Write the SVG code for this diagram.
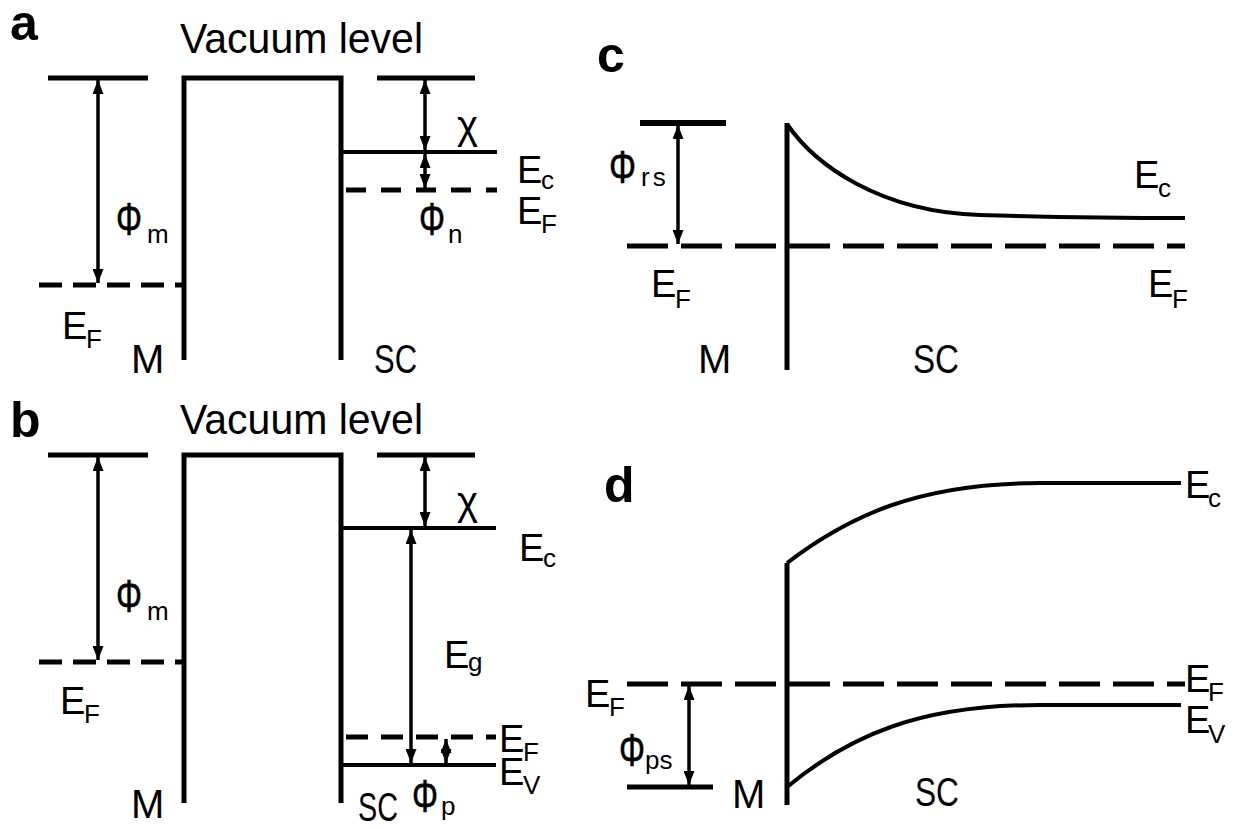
<svg xmlns="http://www.w3.org/2000/svg" width="1233" height="829" viewBox="0 0 1233 829">
<style>
text{font-family:"Liberation Sans",Arial,sans-serif;fill:#000}
.pl{font-size:50px;font-weight:bold}
.vac{font-size:43px}
.big{font-size:40px}
.e{font-size:38px}
.s{font-size:26px}
.phi{font-size:46px;stroke:#000;stroke-width:0.6}
.ln{stroke:#000;stroke-width:5;fill:none}
.thin{stroke:#000;stroke-width:4;fill:none}
.da{stroke:#000;stroke-width:5;fill:none;stroke-dasharray:23 11}
.db{stroke:#000;stroke-width:5;fill:none;stroke-dasharray:41 13}
.ar{stroke:#000;stroke-width:3.5;fill:none;marker-start:url(#ah);marker-end:url(#ah)}
</style>
<defs>
<marker id="ah" viewBox="0 0 14 11" refX="14" refY="5.5" markerWidth="14" markerHeight="11" markerUnits="userSpaceOnUse" orient="auto-start-reverse">
<path d="M0,0 L14,5.5 L0,11 z" fill="#000"/>
</marker>
</defs>
<rect width="1233" height="829" fill="#fff"/>

<g id="panel-a">
<text class="pl" x="10" y="40">a</text>
<text class="vac" x="180" y="53" textLength="243" lengthAdjust="spacingAndGlyphs">Vacuum level</text>
<path class="ln" d="M48,78 H148"/>
<path class="ln" d="M184,360 V78 H341 V360"/>
<path class="ln" d="M377,78 H475"/>
<path class="thin" d="M341,152 H497"/>
<path class="da" d="M39,285 H184"/>
<path class="da" style="stroke-dasharray:20 15" d="M346,190 H497"/>
<text class="phi" x="116" y="235" textLength="26" lengthAdjust="spacingAndGlyphs">Φ</text><text class="s" x="147" y="243">m</text>
<text class="e" x="62" y="339">E</text><text class="s" x="86" y="348">F</text>
<text class="big" x="131" y="373">M</text>
<text class="big" x="374" y="373" textLength="43" lengthAdjust="spacingAndGlyphs">SC</text>
<text class="big" x="457" y="139">χ</text>
<text class="e" x="517" y="183">E</text><text class="s" x="541" y="189">c</text>
<text class="e" x="517" y="224">E</text><text class="s" x="541" y="233">F</text>
<text class="phi" x="419" y="235" textLength="26" lengthAdjust="spacingAndGlyphs">Φ</text><text class="s" x="448" y="243">n</text>
</g>

<g id="panel-b">
<text class="pl" x="10" y="437">b</text>
<text class="vac" x="180" y="434" textLength="243" lengthAdjust="spacingAndGlyphs">Vacuum level</text>
<path class="ln" d="M48,455 H148"/>
<path class="ln" d="M184,803 V455 H341 V803"/>
<path class="ln" d="M377,455 H475"/>
<path class="thin" d="M341,528 H496"/>
<path class="thin" d="M341,765 H496"/>
<path class="da" d="M39,662 H184"/>
<path class="da" style="stroke-dasharray:22 13" d="M346,737 H496"/>
<text class="phi" x="116" y="612" textLength="26" lengthAdjust="spacingAndGlyphs">Φ</text><text class="s" x="147" y="620">m</text>
<text class="e" x="60" y="714">E</text><text class="s" x="84" y="723">F</text>
<text class="big" x="131" y="818">M</text>
<text class="big" x="358" y="821" textLength="40" lengthAdjust="spacingAndGlyphs">SC</text>
<text class="phi" x="412" y="812" textLength="26" lengthAdjust="spacingAndGlyphs">Φ</text><text class="s" x="441" y="815">p</text>
<text class="big" x="457" y="515">χ</text>
<text class="e" x="519" y="561">E</text><text class="s" x="543" y="567">c</text>
<text class="e" x="444" y="668">E</text><text class="s" x="468" y="671">g</text>
<text class="e" x="499" y="752">E</text><text class="s" x="523" y="761">F</text>
<text class="e" x="499" y="785">E</text><text class="s" x="523" y="794">V</text>
</g>

<g id="panel-c">
<text class="pl" x="597" y="72">c</text>
<path class="ln" style="stroke-width:6" d="M640,123 H726"/>
<path class="ln" d="M787,123 V370"/>
<path class="thin" d="M787,124 C815,165 880,212 980,215 S1120,218 1185,218"/>
<path class="db" d="M627,246 H1185"/>
<text class="phi" x="609" y="183" textLength="27" lengthAdjust="spacingAndGlyphs">Φ</text><text class="s" x="641" y="186" style="letter-spacing:3px">rs</text>
<text class="e" x="651" y="297">E</text><text class="s" x="675" y="308">F</text>
<text class="e" x="1148" y="297">E</text><text class="s" x="1172" y="308">F</text>
<text class="e" x="1134" y="188">E</text><text class="s" x="1158" y="197">c</text>
<text class="big" x="698" y="373">M</text>
<text class="big" x="913" y="373" textLength="46" lengthAdjust="spacingAndGlyphs">SC</text>
</g>

<g id="panel-d">
<text class="pl" x="604" y="502">d</text>
<path class="ln" d="M787,563 V805"/>
<path class="thin" d="M787,563 C850,515 920,483 1040,483 L1181,483"/>
<path class="thin" d="M787,787 C850,735 920,705 1040,705 L1181,705"/>
<path class="db" d="M627,684 H1185"/>
<path class="ln" d="M627,787 H713"/>
<text class="e" x="585" y="707">E</text><text class="s" x="609" y="716">F</text>
<text class="phi" x="619" y="766" textLength="26" lengthAdjust="spacingAndGlyphs">Φ</text><text class="s" x="645" y="769">ps</text>
<text class="big" x="732" y="808">M</text>
<text class="big" x="915" y="806" textLength="44" lengthAdjust="spacingAndGlyphs">SC</text>
<text class="e" x="1185" y="498">E</text><text class="s" x="1208" y="507">c</text>
<text class="e" x="1185" y="692">E</text><text class="s" x="1208" y="701">F</text>
<text class="e" x="1185" y="733">E</text><text class="s" x="1208" y="743">V</text>
</g>

<g id="connectors">
<path class="ar" d="M98,80 V283"/>
<path class="ar" d="M425,80 V150"/>
<path class="ar" d="M425,154 V188"/>
<path class="ar" d="M98,457 V660"/>
<path class="ar" d="M425,457 V526"/>
<path class="ar" d="M411,530 V763"/>
<path class="ar" d="M446,739 V763"/>
<path class="ar" d="M678,125 V244"/>
<path class="ar" d="M689,686 V785"/>
</g>
</svg>
